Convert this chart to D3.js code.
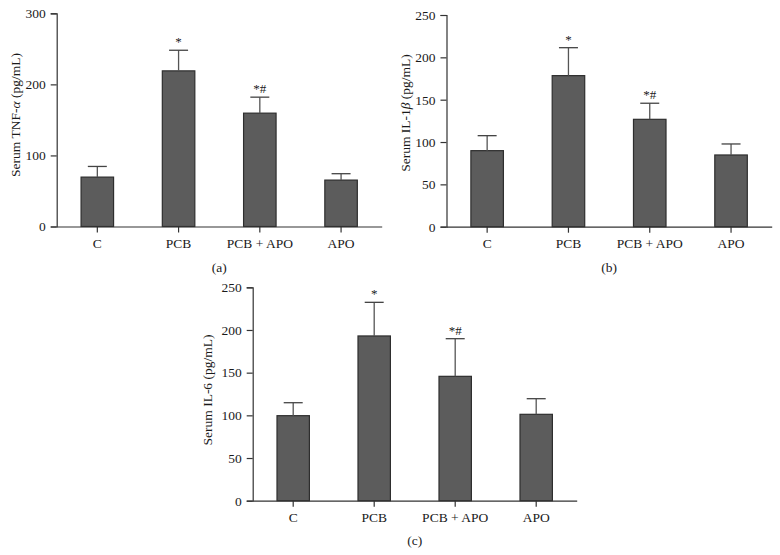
<!DOCTYPE html>
<html>
<head>
<meta charset="utf-8">
<script src="https://cdn.jsdelivr.net/npm/d3@7"></script>
<style>
  html, body { margin: 0; padding: 0; background: #fff; }
  svg { display: block; }
  text { font-family: "Liberation Serif", "Times New Roman", serif; fill: #1a1a1a; }
</style>
</head>
<body>
<svg id="chart" width="780" height="555"></svg>
<script>
// ---- data ----
const categories = ["C", "PCB", "PCB + APO", "APO"];
const marks = ["", "*", "*#", ""];

const tnfMeans = [69.5, 219, 159.5, 65.3];
const tnfSD    = [15, 29, 22.5, 9];
const tnfTicks = [0, 100, 200, 300];

const il1bMeans = [89.8, 178.4, 126.8, 84.7];
const il1bSD    = [17.7, 33, 19, 13];
const il1bTicks = [0, 50, 100, 150, 200, 250];

const il6Means = [99.6, 193, 145.7, 101.2];
const il6SD    = [15.2, 39.4, 44.1, 18.3];
const il6Ticks = [0, 50, 100, 150, 200, 250];

const svg = d3.select("#chart");
const FS = 13.5;

function panel(opts) {
  const { x0, x1, yTop, yBottom, means, sds, ticks, labelParts, labelX, labelY, caption, captionY } = opts;
  const g = svg.append("g");
  const x = d3.scaleBand().domain(categories).range([x0, x1]).paddingInner(0.6).paddingOuter(0.3);
  const y = d3.scaleLinear().domain([0, ticks[ticks.length - 1]]).range([yBottom, yTop]);

  // bars
  g.selectAll("rect.bar").data(categories).join("rect")
    .attr("x", d => x(d))
    .attr("width", x.bandwidth())
    .attr("y", (d, i) => y(means[i]))
    .attr("height", (d, i) => y(0) - y(means[i]))
    .attr("fill", "#5c5c5c")
    .attr("stroke", "#2e2e2e")
    .attr("stroke-width", 1.2);

  // error bars (upper only)
  const cx = d => x(d) + x.bandwidth() / 2;
  g.selectAll("line.err").data(categories).join("line")
    .attr("x1", cx).attr("x2", cx)
    .attr("y1", (d, i) => y(means[i]))
    .attr("y2", (d, i) => y(means[i] + sds[i]))
    .attr("stroke", "#555").attr("stroke-width", 1.3);
  g.selectAll("line.cap").data(categories).join("line")
    .attr("x1", d => cx(d) - 9.5).attr("x2", d => cx(d) + 9.5)
    .attr("y1", (d, i) => y(means[i] + sds[i]))
    .attr("y2", (d, i) => y(means[i] + sds[i]))
    .attr("stroke", "#444").attr("stroke-width", 1.3);

  // significance marks
  g.selectAll("text.mark").data(categories).join("text")
    .attr("x", cx)
    .attr("y", (d, i) => y(means[i] + sds[i]) - 4)
    .attr("text-anchor", "middle")
    .attr("font-size", 13)
    .text((d, i) => marks[i]);

  // y axis
  const ya = g.append("g").attr("transform", `translate(${x0},0)`)
    .call(d3.axisLeft(y).tickValues(ticks).tickSize(6).tickPadding(5).tickFormat(d3.format("d")));
  ya.select(".domain").attr("stroke", "#333").attr("stroke-width", 1.2);
  ya.selectAll(".tick line").attr("stroke", "#333").attr("stroke-width", 1.2);
  ya.selectAll(".tick text").attr("font-family", "Liberation Serif").attr("font-size", FS).attr("fill", "#1a1a1a");

  // x axis
  const xa = g.append("g").attr("transform", `translate(0,${yBottom})`)
    .call(d3.axisBottom(x).tickSize(6).tickSizeOuter(0).tickPadding(6));
  xa.select(".domain").attr("stroke", "#333").attr("stroke-width", 1.2);
  xa.selectAll(".tick line").attr("stroke", "#333").attr("stroke-width", 1.2);
  xa.selectAll(".tick text").attr("font-family", "Liberation Serif").attr("font-size", FS).attr("fill", "#1a1a1a");

  // y label
  const lab = g.append("text")
    .attr("transform", `translate(${labelX},${labelY}) rotate(-90)`)
    .attr("text-anchor", "middle")
    .attr("dy", "0.35em")
    .attr("font-size", FS);
  labelParts.forEach(p => {
    const t = lab.append("tspan").text(p.t);
    if (p.i) t.attr("font-style", "italic");
  });

  // caption
  g.append("text")
    .attr("x", (x0 + x1) / 2)
    .attr("y", captionY)
    .attr("dy", "0.35em")
    .attr("text-anchor", "middle")
    .attr("font-size", FS)
    .text(caption);
}

panel({
  x0: 56.7, x1: 381.7, yTop: 13.3, yBottom: 226.5,
  means: tnfMeans, sds: tnfSD, ticks: tnfTicks,
  labelParts: [{ t: "Serum TNF-" }, { t: "α", i: true }, { t: " (pg/mL)" }],
  labelX: 15, labelY: 115, caption: "(a)", captionY: 267
});

panel({
  x0: 446.5, x1: 771.7, yTop: 15, yBottom: 226.7,
  means: il1bMeans, sds: il1bSD, ticks: il1bTicks,
  labelParts: [{ t: "Serum IL-1" }, { t: "β", i: true }, { t: " (pg/mL)" }],
  labelX: 405, labelY: 113, caption: "(b)", captionY: 267
});

panel({
  x0: 252.7, x1: 576.7, yTop: 287.3, yBottom: 500.7,
  means: il6Means, sds: il6SD, ticks: il6Ticks,
  labelParts: [{ t: "Serum IL-6 (pg/mL)" }],
  labelX: 207, labelY: 390, caption: "(c)", captionY: 540
});
</script>
</body>
</html>
